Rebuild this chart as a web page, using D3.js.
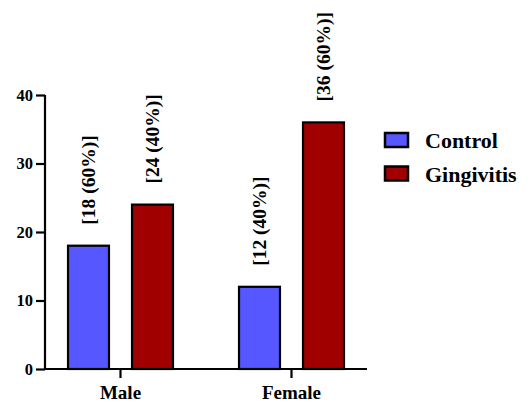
<!DOCTYPE html>
<html>
<head>
<meta charset="utf-8">
<script src="https://cdn.jsdelivr.net/npm/d3@7"></script>
<style>
  html, body { margin: 0; padding: 0; background: #fff; }
</style>
</head>
<body>
<svg id="chart" width="530" height="403"></svg>
<script>
const categories = ["Male", "Female"];
const seriesNames = ["Control", "Gingivitis"];
const controlValues = [18, 12];
const gingivitisValues = [24, 36];
const barLabels = [["[18 (60%)]", "[24 (40%)]"], ["[12 (40%)]", "[36 (60%)]"]];
const yTicks = [0, 10, 20, 30, 40];
const colors = ["#5757FF", "#A00000"];

const FONT = "'Liberation Serif', Tinos, 'Times New Roman', Times, 'DejaVu Serif', serif";

const svg = d3.select("#chart")
  .attr("font-family", FONT)
  .attr("font-weight", "bold");
const axisX0 = 45, axisXEnd = 367;

const y = d3.scaleLinear().domain([0, 40]).range([369, 95]);
const x0 = d3.scaleBand().domain(categories).range([35, 377]).padding(0);
const x1 = d3.scaleBand().domain(seriesNames).range([0, x0.bandwidth()])
  .paddingInner(0.36).paddingOuter(0.516);
const color = d3.scaleOrdinal().domain(seriesNames).range(colors);

const data = categories.map((c, i) => ({
  category: c,
  values: [
    { series: "Control", value: controlValues[i], label: barLabels[i][0] },
    { series: "Gingivitis", value: gingivitisValues[i], label: barLabels[i][1] }
  ]
}));

// bars
const groups = svg.append("g").selectAll("g").data(data).join("g")
  .attr("transform", d => `translate(${x0(d.category)},0)`);

groups.selectAll("rect").data(d => d.values).join("rect")
  .attr("x", d => x1(d.series))
  .attr("y", d => y(d.value))
  .attr("width", x1.bandwidth())
  .attr("height", d => y(0) - y(d.value))
  .attr("fill", d => color(d.series))
  .attr("stroke", "#000")
  .attr("stroke-width", 2.2);

groups.selectAll("text").data(d => d.values).join("text")
  .attr("transform", d => `translate(${x1(d.series) + x1.bandwidth() / 2},${y(d.value) - 21}) rotate(-90)`)
  .attr("dy", "0.35em")
  .attr("text-anchor", "start")
  .attr("font-family", FONT)
  .attr("font-weight", "bold")
  .attr("font-size", 19.5)
  .attr("fill", "#000")
  .text(d => d.label);

// y axis
const yAxis = svg.append("g")
  .attr("transform", `translate(${axisX0},0)`)
  .call(d3.axisLeft(y).tickValues(yTicks).tickSize(9).tickSizeOuter(0).tickPadding(3))
  .attr("font-family", FONT).attr("font-weight", "bold");
yAxis.select(".domain").attr("stroke-width", 2.2).attr("d", `M0,${y(0) + 1}V${y(40)}`);
yAxis.selectAll(".tick line").attr("stroke-width", 2.2);
yAxis.selectAll(".tick text").attr("font-size", 16.5).attr("font-family", FONT).attr("font-weight", "bold").attr("fill", "#000");

// x axis
const xAxis = svg.append("g")
  .attr("transform", `translate(0,${y(0)})`)
  .call(d3.axisBottom(x0).tickSize(9).tickSizeOuter(0).tickPadding(8))
  .attr("font-family", FONT).attr("font-weight", "bold");
xAxis.select(".domain").attr("stroke-width", 2.2).attr("d", `M${axisX0 - 1},0H${axisXEnd}`);
xAxis.selectAll(".tick line").attr("stroke-width", 2.2);
xAxis.selectAll(".tick text").attr("font-size", 19).attr("font-family", FONT).attr("font-weight", "bold").attr("fill", "#000");

// legend
const legend = svg.append("g").attr("transform", "translate(385,133)");
const li = legend.selectAll("g").data(seriesNames).join("g")
  .attr("transform", (d, i) => `translate(0,${i * 33.5})`);
li.append("rect")
  .attr("width", 23).attr("height", 14)
  .attr("fill", d => color(d))
  .attr("stroke", "#000").attr("stroke-width", 2.5);
li.append("text")
  .attr("x", 40).attr("y", 15)
  .attr("font-family", FONT)
  .attr("font-weight", "bold")
  .attr("font-size", 22)
  .attr("fill", "#000")
  .text(d => d);
</script>
</body>
</html>
